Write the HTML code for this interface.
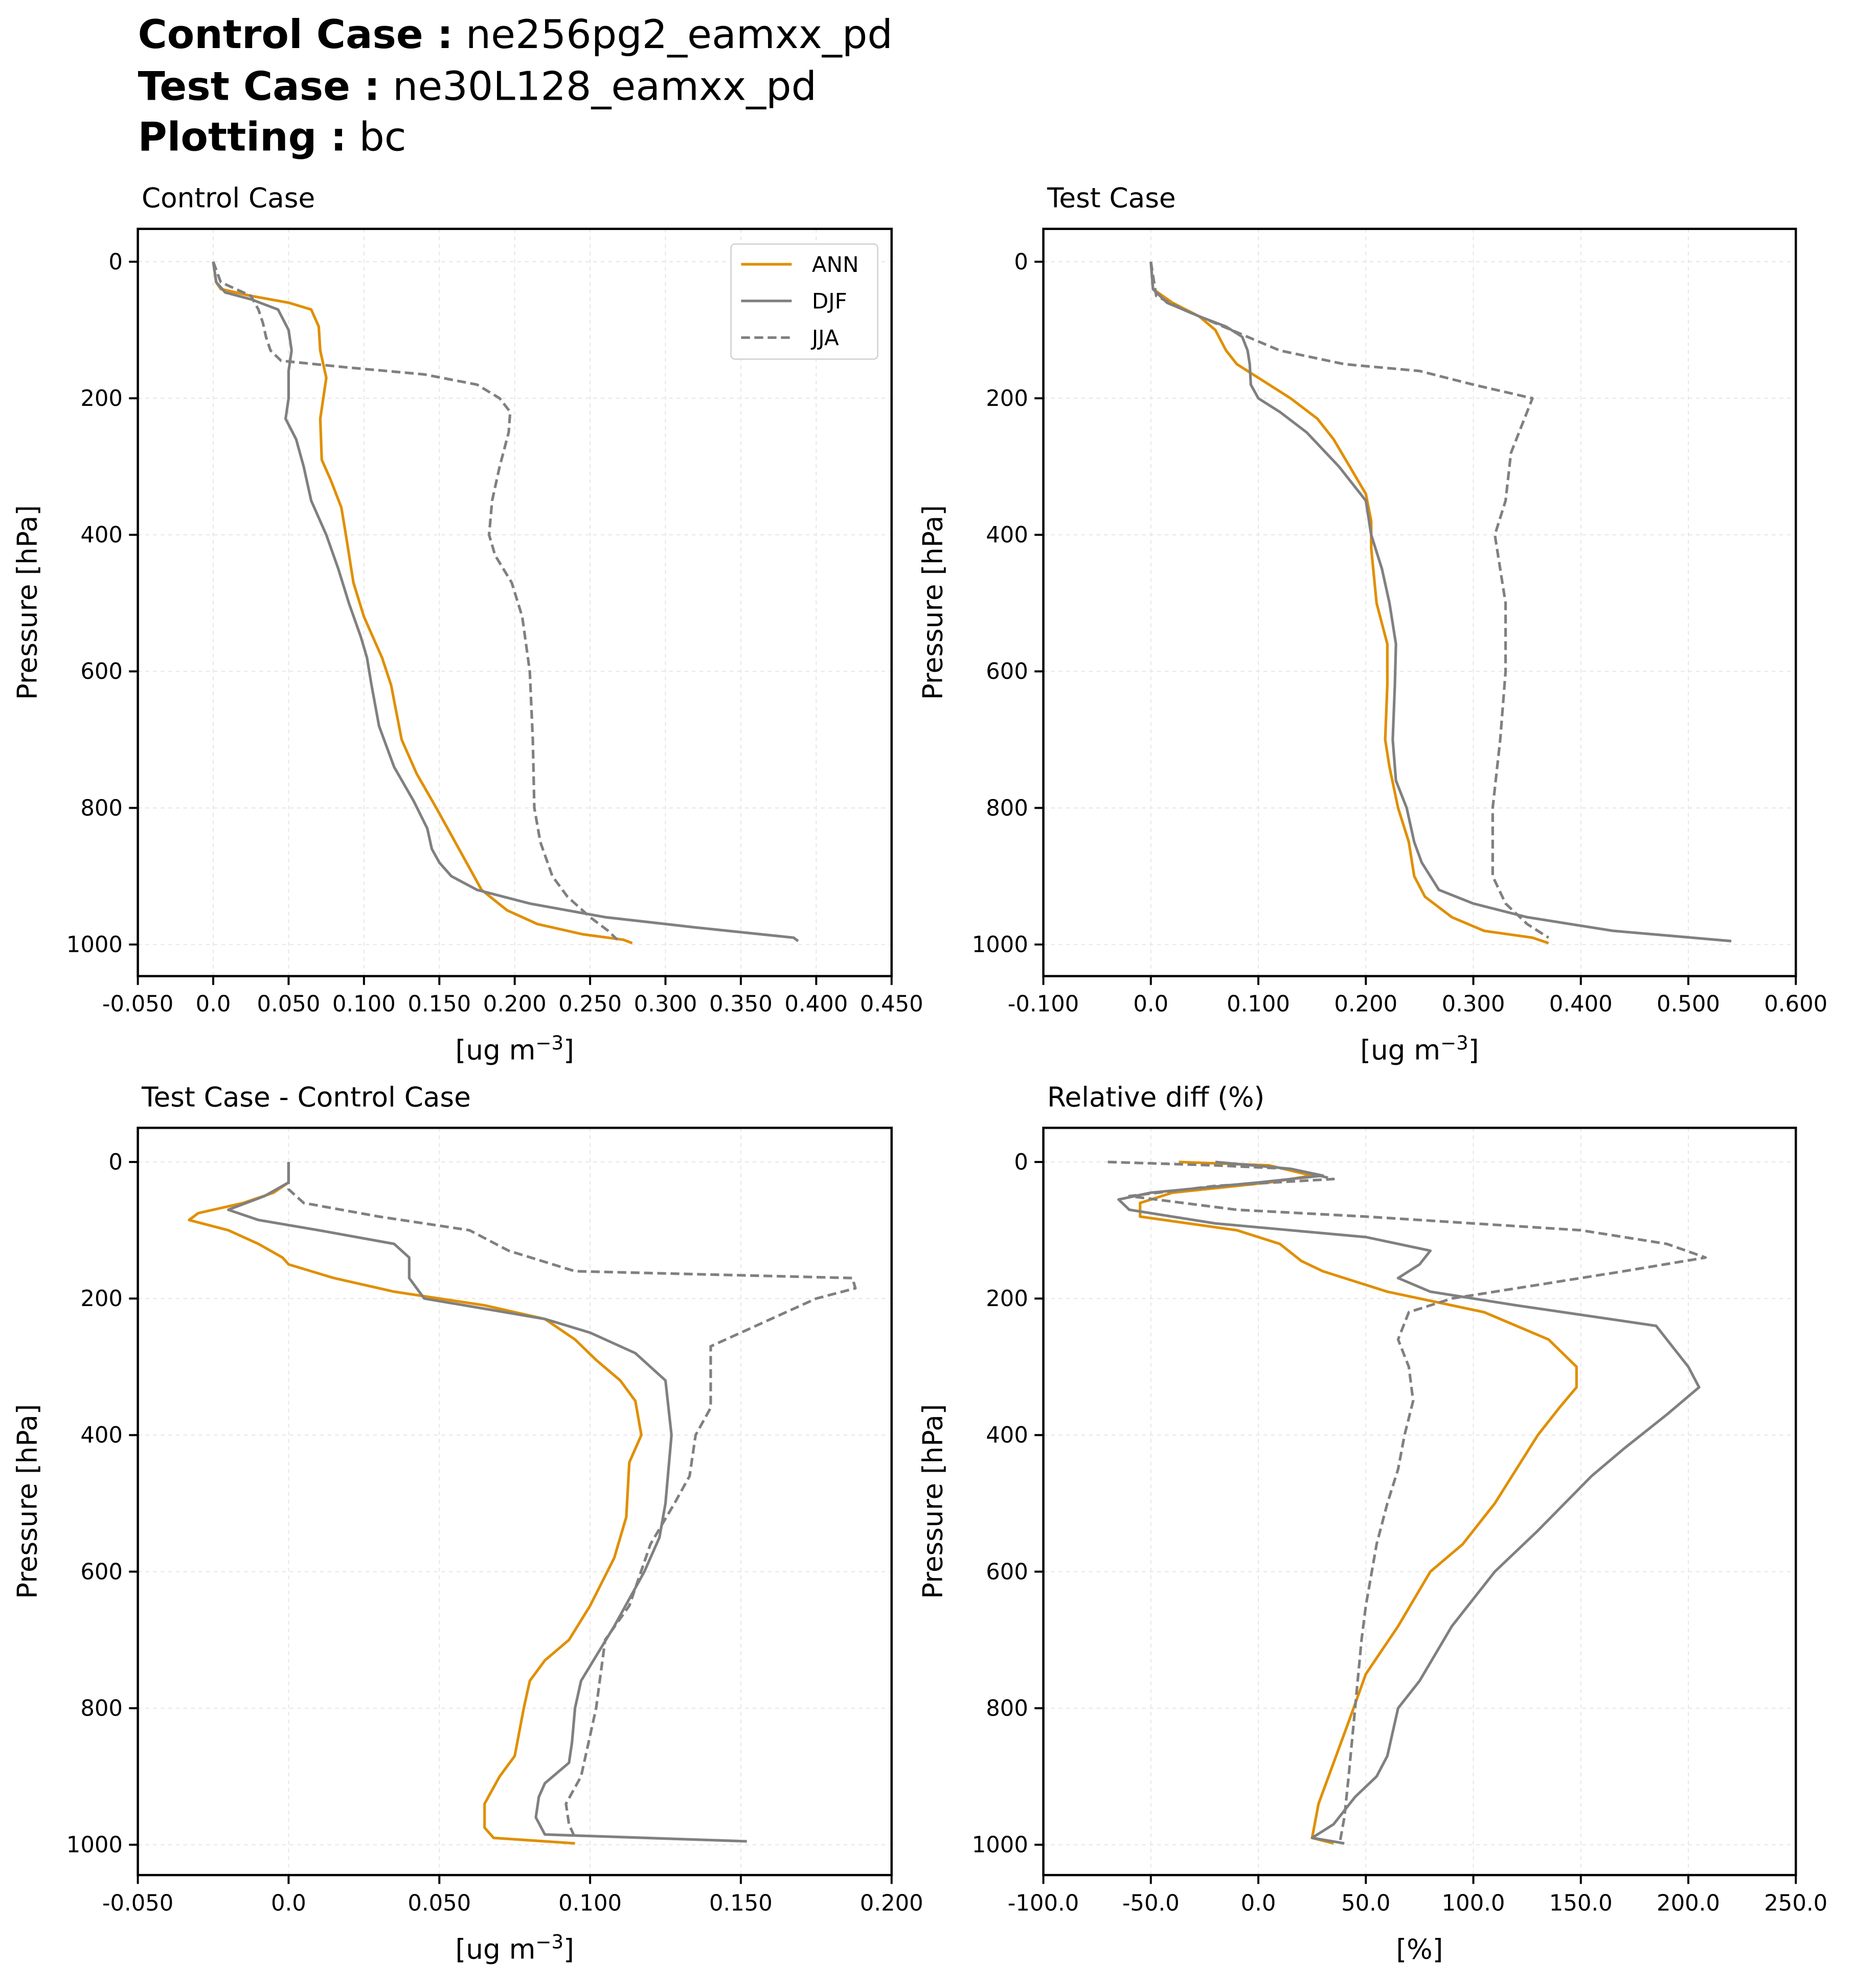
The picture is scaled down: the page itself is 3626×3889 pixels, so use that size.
<!DOCTYPE html>
<html><head><meta charset="utf-8"><style>
html,body{margin:0;padding:0;background:#fff;}
svg{display:block;font-family:"DejaVu Sans","Liberation Sans",sans-serif;}
</style></head><body>
<svg id="fig" width="3626" height="3889" viewBox="0 0 1466 1572.3" xmlns="http://www.w3.org/2000/svg">
<rect width="1466" height="1573" fill="#fff"/>
<g font-size="31.5" fill="#000">
<text x="109" y="38"><tspan font-weight="bold">Control Case :</tspan><tspan dx="10">ne256pg2_eamxx_pd</tspan></text>
<text x="109" y="79"><tspan font-weight="bold">Test Case :</tspan><tspan dx="10">ne30L128_eamxx_pd</tspan></text>
<text x="109" y="119"><tspan font-weight="bold">Plotting :</tspan><tspan dx="10">bc</tspan></text>
</g>
</svg>
<script>
// ---- data ----
const c_ann_p=[0,30,40,50,60,70,85,95,130,170,200,230,290,320,360,400,470,520,580,620,700,750,800,860,920,950,970,985,993,998];
const c_ann_v=[0,0.002,0.005,0.025,0.05,0.065,0.068,0.07,0.071,0.075,0.073,0.071,0.072,0.078,0.085,0.088,0.093,0.1,0.112,0.118,0.125,0.135,0.148,0.163,0.178,0.195,0.215,0.245,0.272,0.278];
const c_djf_p=[0,30,45,55,70,100,130,160,200,230,260,300,350,400,450,500,550,580,620,680,740,790,830,860,880,900,920,940,960,975,990,995];
const c_djf_v=[0,0.002,0.008,0.025,0.043,0.05,0.052,0.05,0.05,0.048,0.055,0.06,0.065,0.075,0.083,0.09,0.098,0.102,0.105,0.11,0.12,0.133,0.142,0.145,0.15,0.158,0.175,0.21,0.26,0.32,0.385,0.388];
const c_jja_p=[0,30,50,70,90,110,130,145,155,165,180,200,220,250,300,350,400,430,470,520,600,700,800,850,900,930,960,980,993];
const c_jja_v=[0,0.005,0.025,0.03,0.033,0.035,0.038,0.045,0.09,0.14,0.175,0.19,0.197,0.196,0.19,0.185,0.183,0.187,0.198,0.205,0.21,0.212,0.213,0.217,0.225,0.235,0.25,0.262,0.268];
const t_ann_p=[0,40,60,80,100,130,150,170,200,230,260,300,340,380,420,500,560,620,700,740,800,850,900,930,960,980,990,998];
const t_ann_v=[0,0.002,0.02,0.045,0.06,0.07,0.08,0.1,0.13,0.155,0.17,0.185,0.2,0.205,0.205,0.21,0.22,0.22,0.218,0.222,0.23,0.24,0.245,0.255,0.28,0.31,0.355,0.37];
const t_djf_p=[0,40,60,80,95,110,130,150,180,200,220,250,300,350,400,450,500,560,620,700,760,800,850,880,920,940,960,980,995];
const t_djf_v=[0,0.002,0.015,0.045,0.07,0.085,0.09,0.092,0.093,0.1,0.12,0.145,0.175,0.2,0.205,0.215,0.222,0.228,0.227,0.225,0.228,0.238,0.245,0.252,0.268,0.3,0.35,0.43,0.54];
const t_jja_p=[0,50,70,90,110,130,150,160,180,200,240,280,350,400,450,500,600,700,800,900,940,970,990];
const t_jja_v=[0,0.005,0.03,0.06,0.09,0.12,0.18,0.25,0.3,0.355,0.345,0.335,0.33,0.32,0.325,0.33,0.33,0.325,0.318,0.318,0.33,0.35,0.37];
const d_ann_p=[0,30,45,60,75,85,100,120,140,150,170,190,210,230,260,290,320,350,400,440,520,580,650,700,730,760,800,870,900,940,975,990,998];
const d_ann_v=[0,0,-0.005,-0.015,-0.03,-0.033,-0.02,-0.01,-0.002,0,0.015,0.035,0.065,0.085,0.095,0.102,0.11,0.115,0.117,0.113,0.112,0.108,0.1,0.093,0.085,0.08,0.078,0.075,0.07,0.065,0.065,0.068,0.095];
const d_djf_p=[0,30,50,70,85,100,120,140,170,200,230,250,280,320,400,500,550,600,680,760,800,850,880,910,930,960,985,995];
const d_djf_v=[0,0,-0.008,-0.02,-0.01,0.01,0.035,0.04,0.04,0.045,0.085,0.1,0.115,0.125,0.127,0.125,0.123,0.118,0.108,0.097,0.095,0.094,0.093,0.085,0.083,0.082,0.085,0.152];
const d_jja_p=[0,40,60,80,100,130,160,170,185,200,230,270,320,360,400,460,500,560,650,700,800,900,940,970,990];
const d_jja_v=[0,0,0.005,0.03,0.06,0.073,0.095,0.187,0.188,0.175,0.16,0.14,0.14,0.14,0.135,0.133,0.128,0.12,0.113,0.105,0.102,0.097,0.092,0.093,0.095];
const r_ann_p=[0,5,20,30,45,60,80,100,120,145,160,190,220,260,300,330,360,400,440,500,560,600,680,750,820,880,940,990,998];
const r_ann_v=[-37,5,25,5,-40,-55,-55,-10,10,20,30,60,105,135,148,148,140,130,122,110,95,80,65,50,42,35,28,25,35];
const r_djf_p=[0,10,20,30,45,55,70,90,110,130,150,170,190,210,240,300,330,370,420,460,540,600,680,760,800,870,900,930,970,990,998];
const r_djf_v=[-20,15,30,0,-50,-65,-60,-20,50,80,75,65,80,120,185,200,205,190,170,155,130,110,90,75,65,60,55,45,35,25,40];
const r_jja_p=[0,5,10,25,35,50,70,80,100,120,140,160,180,200,220,260,300,350,400,450,500,560,650,700,800,900,960,995];
const r_jja_v=[-70,-20,15,35,-20,-60,-10,50,150,190,208,170,130,90,70,65,70,72,68,65,60,55,50,48,45,42,40,38];
const yTicks=[0,200,400,600,800,1000];
const x1Ticks=[-0.05,0,0.05,0.1,0.15,0.2,0.25,0.3,0.35,0.4,0.45];
const x1Labels=["-0.050","0.0","0.050","0.100","0.150","0.200","0.250","0.300","0.350","0.400","0.450"];
const x2Ticks=[-0.1,0,0.1,0.2,0.3,0.4,0.5,0.6];
const x2Labels=["-0.100","0.0","0.100","0.200","0.300","0.400","0.500","0.600"];
const x3Ticks=[-0.05,0,0.05,0.1,0.15,0.2];
const x3Labels=["-0.050","0.0","0.050","0.100","0.150","0.200"];
const x4Ticks=[-100,-50,0,50,100,150,200,250];
const x4Labels=["-100.0","-50.0","0.0","50.0","100.0","150.0","200.0","250.0"];

const NS="http://www.w3.org/2000/svg";
const svg=document.getElementById('fig');
function mk(tag,attrs,parent){const e=document.createElementNS(NS,tag);for(const k in attrs)e.setAttribute(k,attrs[k]);(parent||svg).appendChild(e);return e;}
const ORANGE="#e08f00",GRAY="#808080";
function panel(o){
  const g=mk('g',{});
  
  
  const L=o.L,R=o.R,T=o.T,B=o.B;
  const y0=o.y0;
  const X=v=>L+(v-o.xmin)/(o.xmax-o.xmin)*(R-L);
  const Y=p=>y0+p*0.54;
  o.xt.forEach(v=>{const l=mk('line',{x1:X(v),x2:X(v),y1:T,y2:B,stroke:'#e6e6e6','stroke-width':0.8,'stroke-dasharray':'3,3'},g);});
  yTicks.forEach(p=>{const l=mk('line',{x1:L,x2:R,y1:Y(p),y2:Y(p),stroke:'#e6e6e6','stroke-width':0.8,'stroke-dasharray':'3,3'},g);});
  o.series.forEach(s=>{
    const d=s.p.map((p,i)=>(i?'L':'M')+X(s.v[i]).toFixed(2)+','+Y(p).toFixed(2)).join('');
    const a={d:d,fill:'none',stroke:s.c,'stroke-width':2.1,'stroke-linejoin':'round'};
    if(s.dash)a['stroke-dasharray']='7,3.5';
    const pth=mk('path',a,g);
    
    
  });
  mk('rect',{x:L,y:T,width:R-L,height:B-T,fill:'none',stroke:'#000','stroke-width':1.8},g);
  o.xt.forEach((v,i)=>{mk('line',{x1:X(v),x2:X(v),y1:B,y2:B+7,stroke:'#000','stroke-width':1.6},g);
    const t=mk('text',{x:X(v),y:B+28,'font-size':17.5,'text-anchor':'middle'},g);t.textContent=o.xl[i];
    });
  yTicks.forEach(p=>{mk('line',{x1:L-7,x2:L,y1:Y(p),y2:Y(p),stroke:'#000','stroke-width':1.6},g);
    const t=mk('text',{x:L-12,y:Y(p)+6,'font-size':17.5,'text-anchor':'end'},g);t.textContent=p;
    });
  const tt=mk('text',{x:L+3,y:T-17,'font-size':21.5},g);tt.textContent=o.title;
  
  const yl=mk('text',{x:0,y:0,'font-size':21.5,'text-anchor':'middle',transform:`translate(${L-80},${(T+B)/2}) rotate(-90)`},g);yl.textContent='Pressure [hPa]';
  
  const xl=mk('text',{x:(L+R)/2,y:B+66,'font-size':21.5,'text-anchor':'middle'},g);
  if(o.unit==='%')xl.textContent='[%]';
  else xl.innerHTML='[ug m<tspan dy="-8" font-size="15">−3</tspan><tspan dy="8">]</tspan>';
  
  return g;
}
panel({name:'control-case-panel',L:109,R:705,T:181,B:772,y0:207,xmin:-0.05,xmax:0.45,xt:x1Ticks,xl:x1Labels,title:'Control Case',unit:'ug',
 series:[{n:'ann-line',p:c_ann_p,v:c_ann_v,c:ORANGE},{n:'djf-line',p:c_djf_p,v:c_djf_v,c:GRAY},{n:'jja-line',p:c_jja_p,v:c_jja_v,c:GRAY,dash:1}]});
panel({name:'test-case-panel',L:825,R:1420,T:181,B:772,y0:207,xmin:-0.1,xmax:0.6,xt:x2Ticks,xl:x2Labels,title:'Test Case',unit:'ug',
 series:[{n:'ann-line',p:t_ann_p,v:t_ann_v,c:ORANGE},{n:'djf-line',p:t_djf_p,v:t_djf_v,c:GRAY},{n:'jja-line',p:t_jja_p,v:t_jja_v,c:GRAY,dash:1}]});
panel({name:'difference-panel',L:109,R:705,T:892,B:1483,y0:919,xmin:-0.05,xmax:0.2,xt:x3Ticks,xl:x3Labels,title:'Test Case - Control Case',unit:'ug',
 series:[{n:'ann-line',p:d_ann_p,v:d_ann_v,c:ORANGE},{n:'djf-line',p:d_djf_p,v:d_djf_v,c:GRAY},{n:'jja-line',p:d_jja_p,v:d_jja_v,c:GRAY,dash:1}]});
panel({name:'relative-diff-panel',L:825,R:1420,T:892,B:1483,y0:919,xmin:-100,xmax:250,xt:x4Ticks,xl:x4Labels,title:'Relative diff (%)',unit:'%',
 series:[{n:'ann-line',p:r_ann_p,v:r_ann_v,c:ORANGE},{n:'djf-line',p:r_djf_p,v:r_djf_v,c:GRAY},{n:'jja-line',p:r_jja_p,v:r_jja_v,c:GRAY,dash:1}]});
const lg=mk('g',{});


mk('rect',{x:578,y:193,width:116,height:91,rx:3,fill:'#fff',stroke:'#d0d0d0','stroke-width':1},lg);
[['ANN',ORANGE,0],['DJF',GRAY,0],['JJA',GRAY,1]].forEach((e,i)=>{
  const y=209+i*29;
  const a={x1:586,x2:626,y1:y,y2:y,stroke:e[1],'stroke-width':2.1};if(e[2])a['stroke-dasharray']='7,3.5';
  mk('line',a,lg);
  const t=mk('text',{x:642,y:y+6,'font-size':17},lg);t.textContent=e[0];
  
  
});
</script>
</body></html>
